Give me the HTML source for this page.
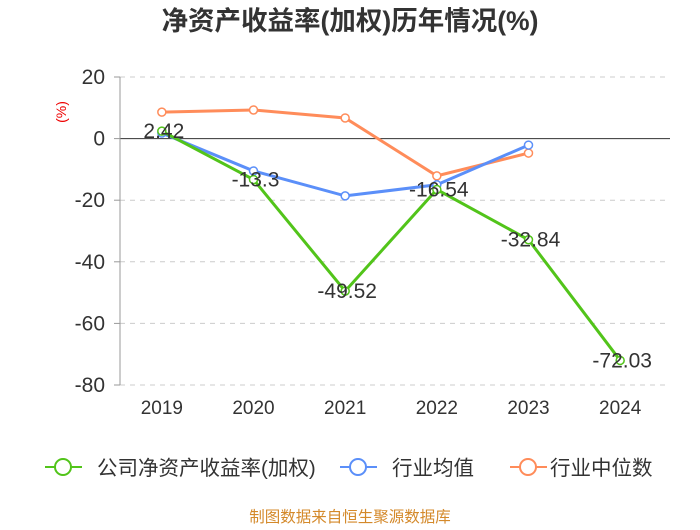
<!DOCTYPE html>
<html><head><meta charset="utf-8"><style>
body{margin:0;background:#fff;font-family:"Liberation Sans","Noto Sans CJK SC",sans-serif}
</style></head><body>
<svg width="700" height="525" xmlns="http://www.w3.org/2000/svg" font-family="Liberation Sans, Noto Sans CJK SC, sans-serif">
<text x="350" y="30" text-anchor="middle" font-size="26.5" font-weight="bold" fill="#333">净资产收益率(加权)历年情况(%)</text>
<text x="66" y="112" text-anchor="middle" font-size="14" fill="#e00" transform="rotate(-90 66 112)">(%)</text>
<g id="grid"></g><g id="series"></g><g id="labels"></g>
<g>
<g><line x1="45" y1="467" x2="82" y2="467" stroke="#52c41a" stroke-width="2"/><circle cx="63" cy="467" r="8" fill="#fff" stroke="#52c41a" stroke-width="2"/><text x="97" y="475" font-size="20.5" fill="#333">公司净资产收益率(加权)</text></g>
<g><line x1="340" y1="467" x2="377" y2="467" stroke="#5b8ff9" stroke-width="2"/><circle cx="358" cy="467" r="8" fill="#fff" stroke="#5b8ff9" stroke-width="2"/><text x="392" y="475" font-size="20.5" fill="#333">行业均值</text></g>
<g><line x1="510" y1="467" x2="547" y2="467" stroke="#ff8c5a" stroke-width="2"/><circle cx="528" cy="467" r="8" fill="#fff" stroke="#ff8c5a" stroke-width="2"/><text x="550" y="475" font-size="20.5" fill="#333">行业中位数</text></g>
</g>
<text x="350" y="522" text-anchor="middle" font-size="15.5" fill="#d4892a">制图数据来自恒生聚源数据库</text>
</svg>
<script>
const categories=["2019","2020","2021","2022","2023","2024"];
const company=[2.42,-13.3,-49.52,-16.54,-32.84,-72.03];
const industryAvg=[1.8,-10.5,-18.6,-15,-2.1,null];
const industryMedian=[8.6,9.3,6.7,-12.1,-4.7,null];
const yTicks=[20,0,-20,-40,-60,-80];
const NS="http://www.w3.org/2000/svg";
const L=120,R=670,T=77,B=385,yMax=20,yMin=-80;
const step=(R-L)/categories.length;
const xs=i=>L+step*(i+0.5)-4;
const ys=v=>T+(yMax-v)/(yMax-yMin)*(B-T);
function mk(tag,attrs,parent){const e=document.createElementNS(NS,tag);for(const k in attrs)e.setAttribute(k,attrs[k]);parent.appendChild(e);return e;}
const grid=document.getElementById('grid');
yTicks.forEach(t=>{
 const y=ys(t);
 const ln=mk('line',{x1:L,x2:R,y1:y,y2:y,stroke:t===0?'#333':'#ccc','stroke-dasharray':t===0?'':'5,5','stroke-width':1},grid);
 
 
 mk('line',{x1:L-6,x2:L,y1:y,y2:y,stroke:'#999'},grid);
 const tx=mk('text',{x:L-15,y:y+7,'text-anchor':'end','font-size':21,fill:'#333'},grid);
 tx.textContent=t;
 
 
});
const ax=mk('line',{x1:L,x2:L,y1:T,y2:B,stroke:'#999'},grid);


categories.forEach((c,i)=>{
 const tx=mk('text',{x:xs(i),y:414,'text-anchor':'middle','font-size':19,fill:'#333'},grid);
 tx.textContent=c;
 
 
});
const sg=document.getElementById('series');
function drawSeries(data,color,name){
 const pts=[];data.forEach((v,i)=>{if(v!==null)pts.push([xs(i),ys(v)]);});
 const pl=mk('polyline',{points:pts.map(p=>p.join(',')).join(' '),fill:'none',stroke:color,'stroke-width':3},sg);
 
 
 pts.forEach(p=>{
  const c=mk('circle',{cx:p[0],cy:p[1],r:4,fill:'#fff',stroke:color,'stroke-width':1.5},sg);
  
  
 });
}
drawSeries(industryMedian,'#ff8c5a','industry-median');
drawSeries(industryAvg,'#5b8ff9','industry-avg');
drawSeries(company,'#52c41a','company-roe');
const lg=document.getElementById('labels');
company.forEach((v,i)=>{
 const tx=mk('text',{x:xs(i)+2,y:ys(v)+7,'text-anchor':'middle','font-size':21,fill:'#333'},lg);
 tx.textContent=v;
 
 
});
</script>
</body></html>
